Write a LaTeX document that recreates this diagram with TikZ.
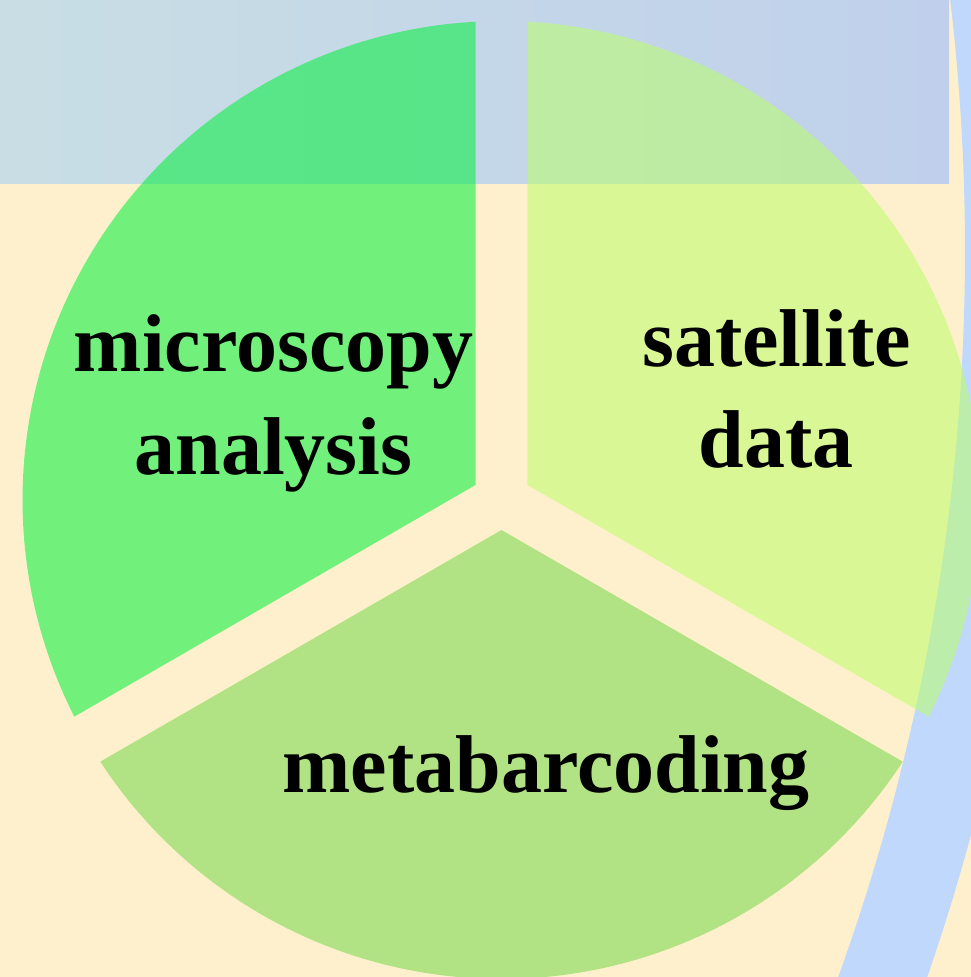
\documentclass[tikz,border=0pt]{standalone}
\usepackage{fontspec}
\setmainfont{Liberation Serif}
\definecolor{cream}{RGB}{254,240,204}
\definecolor{bandblue}{RGB}{192,216,252}
\definecolor{topL}{RGB}{200,222,228}
\definecolor{topR}{RGB}{192,208,236}
\definecolor{leftgreen}{RGB}{0,240,59}
\definecolor{rightgreen}{RGB}{187,255,105}
\definecolor{bottomgreen}{RGB}{114,216,72}
\begin{document}
\begin{tikzpicture}[x=1pt,y=1pt,
  sector/.style={fill opacity=0.55},
  sectortext/.style={font=\bfseries\fontsize{82}{98}\selectfont, anchor=base, inner sep=0pt, text=black}]
\useasboundingbox (0,0) rectangle (971,977);
\clip (0,0) rectangle (971,977);
% background
\fill[cream] (0,0) rectangle (971,977);
% top strip
\shade[left color=topL, right color=topR] (0,793) rectangle (949,977);
% sweeping band on the right
\draw[bandblue, line width=84] (-1177,726) ++(-25:2184) arc[start angle=-25, end angle=15, radius=2184];
% three sectors with a constant gap between them
\begin{scope}[shift={(501.5,477)}]
  \fill[sector, leftgreen] (150:30) -- (93.11:479) arc[start angle=93.11, end angle=206.89, radius=479] -- cycle;
  \fill[sector, rightgreen] (30:30) -- (-26.89:479) arc[start angle=-26.89, end angle=86.89, radius=479] -- cycle;
  \fill[sector, bottomgreen] (270:30) -- (213.11:479) arc[start angle=213.11, end angle=326.89, radius=479] -- cycle;
\end{scope}
% labels
\node[sectortext] (micro) at (273.5,605) {microscopy};
\node[sectortext] (anal) at (273.5,502) {analysis};
\node[sectortext] (sat) at (776.5,610) {satellite};
\node[sectortext] (dat) at (776,509) {data};
\node[sectortext] (meta) at (546,184) {metabarcoding};
\end{tikzpicture}
\end{document}
